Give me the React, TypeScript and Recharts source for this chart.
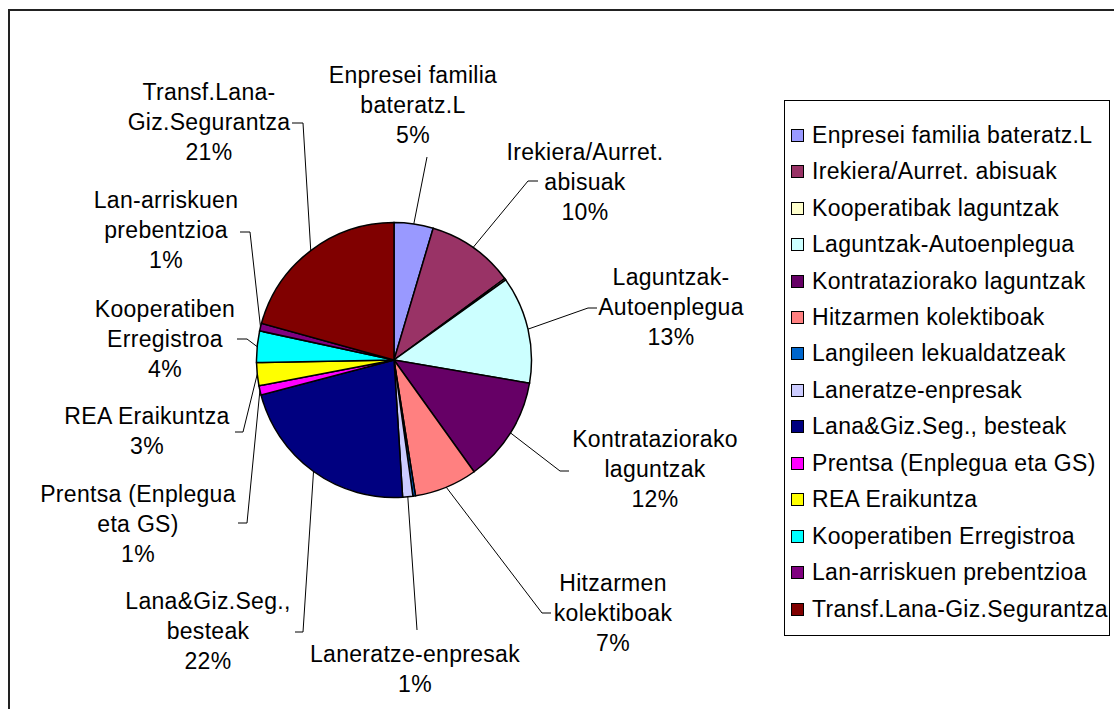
import React from "react";
import { PieChart, Pie, Cell, Legend } from "recharts";

const categories = [
  "Enpresei familia bateratz.L",
  "Irekiera/Aurret. abisuak",
  "Kooperatibak laguntzak",
  "Laguntzak-Autoenplegua",
  "Kontrataziorako laguntzak",
  "Hitzarmen kolektiboak",
  "Langileen lekualdatzeak",
  "Laneratze-enpresak",
  "Lana&Giz.Seg., besteak",
  "Prentsa (Enplegua eta GS)",
  "REA Eraikuntza",
  "Kooperatiben Erregistroa",
  "Lan-arriskuen prebentzioa",
  "Transf.Lana-Giz.Segurantza",
];

// share of the total, %
const shares = [4.6, 10.3, 0.2, 12.6, 12.4, 7.4, 0.3, 1.2, 21.9, 1.1, 2.7, 3.7, 0.9, 20.7];

// how each data label is broken into lines (null = no label shown)
const labelLines: (string[] | null)[] = [
  ["Enpresei familia", "bateratz.L"],
  ["Irekiera/Aurret.", "abisuak"],
  null,
  ["Laguntzak-", "Autoenplegua"],
  ["Kontrataziorako", "laguntzak"],
  ["Hitzarmen", "kolektiboak"],
  null,
  ["Laneratze-enpresak"],
  ["Lana&Giz.Seg.,", "besteak"],
  ["Prentsa (Enplegua", "eta GS)"],
  ["REA Eraikuntza"],
  ["Kooperatiben", "Erregistroa"],
  ["Lan-arriskuen", "prebentzioa"],
  ["Transf.Lana-", "Giz.Segurantza"],
];

const colors = [
  "#9999FF", "#993366", "#FFFFCC", "#CCFFFF", "#660066", "#FF8080", "#0066CC",
  "#CCCCFF", "#000080", "#FF00FF", "#FFFF00", "#00FFFF", "#800080", "#800000",
];

// label placement relative to pie centre: text anchor, leader elbow, leader tick end
type LabelPos = { tx: number; ty: number; ex: number; ey: number; kx?: number };
const labelPos: (LabelPos | null)[] = [
  { tx: 19, ty: -285, ex: 33, ey: -203 },
  { tx: 191, ty: -208, ex: 134, ey: -179, kx: 144 },
  null,
  { tx: 277, ty: -83, ex: 194, ey: -52, kx: 203 },
  { tx: 261, ty: 79, ex: 166, ey: 111, kx: 175 },
  { tx: 219, ty: 223, ex: 148, ey: 253, kx: 157 },
  null,
  { tx: 21, ty: 294, ex: 23, ey: 270 },
  { tx: -186, ty: 241, ex: -91, ey: 272, kx: -99 },
  { tx: -256, ty: 134, ex: -147, ey: 163, kx: -156 },
  { tx: -247, ty: 56, ex: -151, ey: 72, kx: -159 },
  { tx: -229, ty: -51, ex: -147, ey: -21, kx: -157 },
  { tx: -228, ty: -160, ex: -144, ey: -128, kx: -154 },
  { tx: -185, ty: -268, ex: -91, ey: -237, kx: -102 },
];

const data = categories.map((name, i) => ({ name, value: shares[i] }));

const FONT = '"Liberation Sans", Arial, sans-serif';
const FS = 23;
const RAD = Math.PI / 180;
const LINE_H = 30;

const renderLabel = (props: any) => {
  const { cx, cy, midAngle, outerRadius, index, percent } = props;
  const pos = labelPos[index];
  const lines = labelLines[index];
  if (!pos || !lines) return null;
  const sx = cx + outerRadius * Math.cos(-midAngle * RAD);
  const sy = cy + outerRadius * Math.sin(-midAngle * RAD);
  const pts = [`${sx},${sy}`, `${cx + pos.ex},${cy + pos.ey}`];
  if (pos.kx !== undefined) pts.push(`${cx + pos.kx},${cy + pos.ey}`);
  const all = [...lines, `${Math.round(percent * 100)}%`];
  return (
    <g key={`lbl-${index}`}>
      <polyline points={pts.join(" ")} fill="none" stroke="#000" strokeWidth={1} />
      <text fontFamily={FONT} fontSize={FS} letterSpacing={0.3} fill="#000" textAnchor="middle">
        {all.map((t, j) => (
          <tspan key={j} x={cx + pos.tx} y={cy + pos.ty + j * LINE_H} dominantBaseline="central">
            {t}
          </tspan>
        ))}
      </text>
    </g>
  );
};

const LegendBox = () => (
  <div
    style={{
      border: "1px solid #000",
      width: 326,
      height: 536,
      boxSizing: "border-box",
      background: "#fff",
      paddingTop: 16,
    }}
  >
    {categories.map((c, i) => (
      <div
        key={c}
        style={{
          display: "flex",
          alignItems: "center",
          height: 36.46,
          fontFamily: FONT,
          fontSize: FS,
          letterSpacing: 0.3,
          color: "#000",
          whiteSpace: "nowrap",
        }}
      >
        <span
          style={{
            display: "inline-block",
            flex: "none",
            width: 11,
            height: 11,
            background: colors[i],
            border: "1px solid #000",
            marginLeft: 6,
            marginRight: 8,
          }}
        />
        {c}
      </div>
    ))}
  </div>
);

export default function App() {
  return (
    <div
      style={{ position: "fixed", left: 8, top: 8, width: 1106, height: 701, overflow: "hidden", background: "#fff" }}
    >
      <div
        style={{ position: "absolute", left: 0, top: 1, width: 1200, height: 800, border: "2px solid #222", boxSizing: "border-box" }}
      />
      <PieChart
        width={1106}
        height={701}
        margin={{ top: 0, right: 0, bottom: 0, left: 0 }}
        style={{ position: "absolute", left: 0, top: 0 }}
      >
        <Pie
          data={data}
          dataKey="value"
          nameKey="name"
          cx={386}
          cy={352}
          outerRadius={137.5}
          startAngle={90}
          endAngle={-270}
          stroke="#000"
          strokeWidth={1.5}
          label={renderLabel}
          labelLine={false}
          isAnimationActive={false}
        >
          {data.map((d, i) => (
            <Cell key={d.name} fill={colors[i]} />
          ))}
        </Pie>
        <Legend
          content={() => <LegendBox />}
          wrapperStyle={{ position: "absolute", left: 776, top: 92, width: 326 }}
        />
      </PieChart>
    </div>
  );
}
